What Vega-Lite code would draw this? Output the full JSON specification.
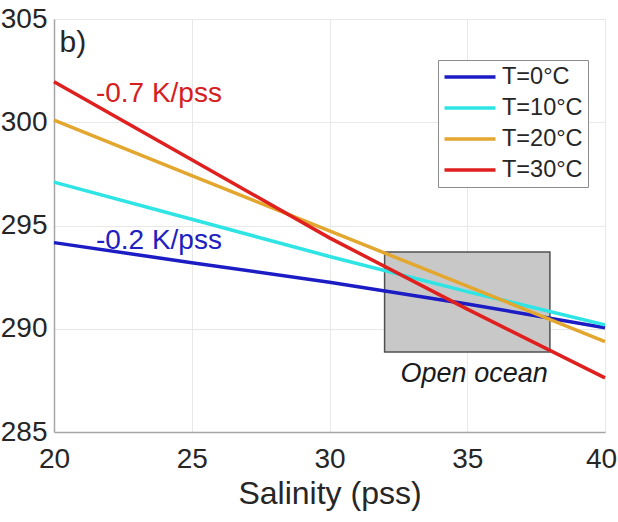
{
  "$schema": "https://vega.github.io/schema/vega-lite/v6.json",
  "width": 551,
  "height": 413,
  "autosize": {"type": "none"},
  "padding": {"left": 54, "top": 19, "right": 13, "bottom": 90},
  "config": {
    "font": "Liberation Sans",
    "view": {"stroke": "#d6d6d6", "strokeWidth": 1}
  },
  "data": {
    "values": [
      {"kind": "box", "s": 32, "s2": 38, "v": 288.87, "v2": 293.72},
      {"kind": "line", "T": "T=0°C", "s": 20, "v": 294.17},
      {"kind": "line", "T": "T=0°C", "s": 25, "v": 293.2},
      {"kind": "line", "T": "T=0°C", "s": 30, "v": 292.25},
      {"kind": "line", "T": "T=0°C", "s": 35, "v": 291.2},
      {"kind": "line", "T": "T=0°C", "s": 40, "v": 290.05},
      {"kind": "line", "T": "T=10°C", "s": 20, "v": 297.1},
      {"kind": "line", "T": "T=10°C", "s": 25, "v": 295.3},
      {"kind": "line", "T": "T=10°C", "s": 30, "v": 293.5},
      {"kind": "line", "T": "T=10°C", "s": 35, "v": 291.8},
      {"kind": "line", "T": "T=10°C", "s": 40, "v": 290.19},
      {"kind": "line", "T": "T=20°C", "s": 20, "v": 300.1},
      {"kind": "line", "T": "T=20°C", "s": 25, "v": 297.42},
      {"kind": "line", "T": "T=20°C", "s": 30, "v": 294.74},
      {"kind": "line", "T": "T=20°C", "s": 35, "v": 292.06},
      {"kind": "line", "T": "T=20°C", "s": 40, "v": 289.38},
      {"kind": "line", "T": "T=30°C", "s": 20, "v": 301.96},
      {"kind": "line", "T": "T=30°C", "s": 25, "v": 298.18},
      {"kind": "line", "T": "T=30°C", "s": 30, "v": 294.4},
      {"kind": "line", "T": "T=30°C", "s": 35, "v": 290.95},
      {"kind": "line", "T": "T=30°C", "s": 40, "v": 287.62},
      {"kind": "label", "id": "red", "text": "-0.7 K/pss", "s": 21.52, "v": 300.97},
      {"kind": "label", "id": "blue", "text": "-0.2 K/pss", "s": 21.52, "v": 293.88},
      {"kind": "label", "id": "panel", "text": "b)", "s": 20.2, "v": 303.4},
      {"kind": "label", "id": "ocean", "text": "Open ocean", "s": 35.25, "v": 287.43}
    ]
  },
  "encoding": {
    "x": {
      "field": "s",
      "type": "quantitative",
      "scale": {"domain": [20, 40], "nice": false, "zero": false},
      "axis": {
        "title": "Salinity (pss)",
        "values": [20, 25, 30, 35, 40],
        "labelFontSize": 28,
        "titleFontSize": 32,
        "titleFontWeight": "normal",
        "labelColor": "#262626",
        "titleColor": "#262626",
        "ticks": false,
        "labelPadding": 13,
        "labelOffset": {"condition": {"test": "datum.value === 40", "value": -4}, "value": 0},
        "titlePadding": 5,
        "grid": true,
        "gridColor": "#e8e8e8",
        "domainColor": "#a6a6a6",
        "domainWidth": 1.5,
        "labelFlush": false
      }
    },
    "y": {
      "field": "v",
      "type": "quantitative",
      "scale": {"domain": [285, 305], "nice": false, "zero": false},
      "axis": {
        "title": null,
        "values": [285, 290, 295, 300, 305],
        "labelFontSize": 28,
        "labelColor": "#262626",
        "ticks": false,
        "labelPadding": 7,
        "grid": true,
        "gridColor": "#e8e8e8",
        "domainColor": "#a6a6a6",
        "domainWidth": 1.5,
        "labelFlush": false
      }
    }
  },
  "layer": [
    {
      "transform": [{"filter": "datum.kind === 'box'"}],
      "mark": {"type": "rect", "fill": "#c8c8c8", "stroke": "#505050", "strokeWidth": 1.5},
      "encoding": {
        "x2": {"field": "s2"},
        "y2": {"field": "v2"}
      }
    },
    {
      "transform": [{"filter": "datum.kind === 'line'"}],
      "mark": {"type": "line", "strokeWidth": 3.5},
      "encoding": {
        "color": {
          "field": "T",
          "type": "nominal",
          "scale": {
            "domain": ["T=0°C", "T=10°C", "T=20°C", "T=30°C"],
            "range": ["#1c1cc4", "#2ee4e4", "#e3a72f", "#e01f1f"]
          },
          "legend": {
            "title": null,
            "orient": "none",
            "legendX": 384,
            "legendY": 41,
            "symbolType": "M-2.5,0H2.5",
            "symbolSize": 416,
            "symbolStrokeWidth": 3.5,
            "symbolOffset": 15,
            "labelFontSize": 23.5,
            "labelColor": "#262626",
            "strokeColor": "#8c8c8c",
            "fillColor": "white",
            "padding": 5,
            "rowPadding": 7,
            "labelOffset": 20,
            "labelLimit": 200
          }
        }
      }
    },
    {
      "transform": [{"filter": "datum.id === 'red'"}],
      "mark": {"type": "text", "align": "left", "baseline": "alphabetic", "fontSize": 28, "color": "#d42020"},
      "encoding": {"text": {"field": "text"}}
    },
    {
      "transform": [{"filter": "datum.id === 'blue'"}],
      "mark": {"type": "text", "align": "left", "baseline": "alphabetic", "fontSize": 28, "color": "#2020c0"},
      "encoding": {"text": {"field": "text"}}
    },
    {
      "transform": [{"filter": "datum.id === 'panel'"}],
      "mark": {"type": "text", "align": "left", "baseline": "alphabetic", "fontSize": 30, "color": "#262626"},
      "encoding": {"text": {"field": "text"}}
    },
    {
      "transform": [{"filter": "datum.id === 'ocean'"}],
      "mark": {"type": "text", "align": "center", "baseline": "alphabetic", "fontSize": 27, "fontStyle": "italic", "color": "#1a1a1a"},
      "encoding": {"text": {"field": "text"}}
    }
  ]
}
